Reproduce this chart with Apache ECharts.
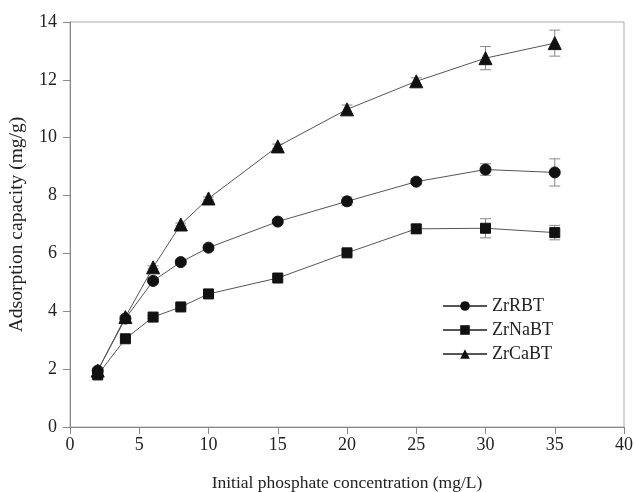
<!DOCTYPE html>
<html><head><meta charset="utf-8">
<script src="https://cdn.jsdelivr.net/npm/echarts@6/dist/echarts.min.js"></script>
<style>html,body{margin:0;padding:0;background:#fff}#c{width:634px;height:492px}</style>
</head><body><div id="c"></div>
<script>
const xValues = [2, 4, 6, 8, 10, 15, 20, 25, 30, 35];
const zrRBT = [1.95, 3.75, 5.05, 5.7, 6.2, 7.1, 7.8, 8.48, 8.9, 8.8];
const zrRBTErr = [0.08, 0.08, 0.08, 0.08, 0.08, 0.08, 0.15, 0.1, 0.2, 0.47];
const zrNaBT = [1.8, 3.05, 3.8, 4.15, 4.6, 5.15, 6.02, 6.85, 6.87, 6.72];
const zrNaBTErr = [0.05, 0.05, 0.05, 0.05, 0.05, 0.05, 0.08, 0.15, 0.33, 0.25];
const zrCaBT = [1.95, 3.8, 5.52, 7.0, 7.9, 9.7, 10.98, 11.95, 12.75, 13.27];
const zrCaBTErr = [0.05, 0.05, 0.05, 0.05, 0.05, 0.08, 0.15, 0.12, 0.4, 0.45];
const seriesNames = ['ZrRBT', 'ZrNaBT', 'ZrCaBT'];

const font = 'Liberation Serif, Times New Roman, serif';
function pairs(v) { return xValues.map((x, i) => [x, v[i]]); }
function errData(v, e) { return xValues.map((x, i) => [x, v[i] - e[i], v[i] + e[i]]); }
function errSeries(v, e) {
  return {
    type: 'custom', silent: true, z: 1,
    data: errData(v, e),
    renderItem: function (params, api) {
      const x = api.value(0);
      const lo = api.coord([x, api.value(1)]);
      const hi = api.coord([x, api.value(2)]);
      const w = 5.5;
      const st = { stroke: '#888', lineWidth: 1 };
      return { type: 'group', children: [
        { type: 'line', shape: { x1: lo[0], y1: lo[1], x2: hi[0], y2: hi[1] }, style: st },
        { type: 'line', shape: { x1: lo[0] - w, y1: lo[1], x2: lo[0] + w, y2: lo[1] }, style: st },
        { type: 'line', shape: { x1: hi[0] - w, y1: hi[1], x2: hi[0] + w, y2: hi[1] }, style: st }
      ]};
    }
  };
}
function lineSeries(name, v, sym, size) {
  return {
    name: name, type: 'line', data: pairs(v), symbol: sym, symbolSize: size, z: 3,
    lineStyle: { color: '#555', width: 1 },
    itemStyle: { color: '#111', borderColor: '#111' }
  };
}
const chart = echarts.init(document.getElementById('c'));
chart.setOption({
  animation: false,
  textStyle: { fontFamily: font },
  grid: { left: 70, right: 10, top: 22, bottom: 65, outerBoundsMode: 'none', containLabel: false,
          show: true, borderColor: '#aaa', borderWidth: 1 },
  legend: {
    orient: 'vertical', left: 442, top: 297, padding: 0, itemGap: 6, itemWidth: 44, itemHeight: 12,
    textStyle: { fontFamily: font, fontSize: 18, lineHeight: 18, color: '#222' },
    data: seriesNames
  },
  xAxis: {
    type: 'value', min: 0, max: 40, interval: 5,
    name: 'Initial phosphate concentration (mg/L)', nameLocation: 'middle', nameGap: 47,
    nameTextStyle: { fontFamily: font, fontSize: 17.5, color: '#222' },
    axisLine: { show: true, lineStyle: { color: '#888' } },
    axisTick: { show: true, length: 7, lineStyle: { color: '#888' } },
    axisLabel: { fontFamily: font, fontSize: 18, color: '#222', margin: 9 },
    splitLine: { show: false }
  },
  yAxis: {
    type: 'value', min: 0, max: 14, interval: 2,
    name: 'Adsorption capacity (mg/g)', nameLocation: 'middle', nameGap: 43,
    nameTextStyle: { fontFamily: font, fontSize: 19.5, color: '#222' },
    axisLine: { show: true, lineStyle: { color: '#888' } },
    axisTick: { show: true, length: 7, lineStyle: { color: '#888' } },
    axisLabel: { fontFamily: font, fontSize: 18, color: '#222', margin: 13 },
    splitLine: { show: false }
  },
  series: [
    errSeries(zrRBT, zrRBTErr),
    errSeries(zrNaBT, zrNaBTErr),
    errSeries(zrCaBT, zrCaBTErr),
    lineSeries(seriesNames[0], zrRBT, 'circle', 11),
    lineSeries(seriesNames[1], zrNaBT, 'rect', 10),
    lineSeries(seriesNames[2], zrCaBT, 'triangle', 13)
  ]
});
</script></body></html>
